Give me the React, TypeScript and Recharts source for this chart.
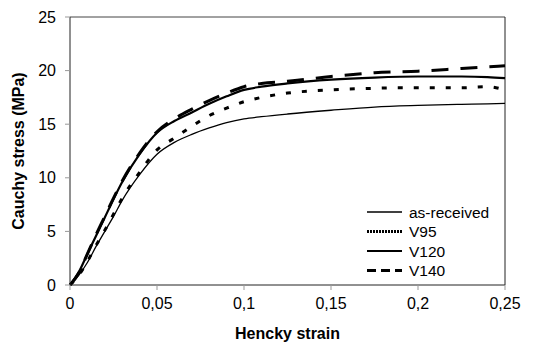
import React from 'react';
import { LineChart, Line, XAxis, YAxis, ReferenceLine, Legend } from 'recharts';

const strain = [0, 0.005, 0.01, 0.015, 0.02, 0.025, 0.03, 0.04, 0.05, 0.06, 0.07, 0.08, 0.09, 0.1, 0.11, 0.125, 0.15, 0.175, 0.2, 0.225, 0.24, 0.25];
const asReceived = [0, 0.9, 2.1, 3.6, 5.0, 6.4, 7.9, 10.3, 12.2, 13.3, 14.05, 14.65, 15.15, 15.5, 15.7, 15.95, 16.3, 16.6, 16.75, 16.85, 16.9, 16.95];
const v95 = [0, 0.9, 2.2, 3.7, 5.1, 6.6, 8.1, 10.5, 12.6, 13.7, 14.8, 15.8, 16.5, 17.1, 17.5, 17.9, 18.2, 18.35, 18.4, 18.4, 18.5, 18.2];
const v120 = [0, 1.2, 2.9, 4.6, 6.3, 8.0, 9.6, 12.2, 14.2, 15.3, 16.1, 16.9, 17.6, 18.2, 18.5, 18.8, 19.15, 19.35, 19.45, 19.45, 19.4, 19.3];
const v140 = [0, 1.1, 2.9, 4.7, 6.4, 8.1, 9.7, 12.3, 14.3, 15.5, 16.4, 17.2, 17.9, 18.5, 18.8, 19.0, 19.45, 19.8, 19.95, 20.2, 20.35, 20.45];

const xTicks = [0, 0.05, 0.1, 0.15, 0.2, 0.25];
const yTicks = [0, 5, 10, 15, 20, 25];

const seriesNames = ['as-received', 'V95', 'V120', 'V140'];

const data = strain.map((s, i) => ({
  strain: s,
  asReceived: asReceived[i],
  v95: v95[i],
  v120: v120[i],
  v140: v140[i],
}));

const FONT = '"Liberation Sans", Arial, Helvetica, sans-serif';

const legendStyles = [
  { width: 1.3, dash: undefined },
  { width: 3, dash: '2 1' },
  { width: 2.2, dash: undefined },
  { width: 3, dash: '9 5 9 5 3 0' },
];

const LegendContent = () => (
  <svg width={150} height={80} style={{ overflow: 'visible', display: 'block' }}>
    {seriesNames.map((name, i) => {
      const y = 9 + i * 19.5;
      const st = legendStyles[i];
      return (
        <g key={name}>
          <line x1={3} x2={38} y1={y} y2={y} stroke="#000" strokeWidth={st.width} strokeDasharray={st.dash} />
          <text x={45} y={y + 5.5} fontSize={15.5} fontFamily={FONT} fill="#000">{name}</text>
        </g>
      );
    })}
  </svg>
);

const fmt = (v: number) => String(v).replace('.', ',');

export default function App() {
  return (
    <div style={{ position: 'absolute', left: 0, top: 0, background: '#fff' }}>
      <LineChart width={546} height={342} data={data} margin={{ top: 17, right: 41, bottom: 0, left: 0 }}>
        <XAxis
          type="number"
          dataKey="strain"
          domain={[0, 0.25]}
          ticks={xTicks}
          tickFormatter={fmt}
          tickSize={5}
          tickMargin={8}
          height={57}
          axisLine={{ stroke: '#222', strokeWidth: 1 }}
          tickLine={{ stroke: '#999' }}
          tick={{ fill: '#000', fontSize: 16, fontFamily: FONT }}
          label={{ value: 'Hencky strain', position: 'insideBottom', offset: 3, style: { fill: '#000', fontSize: 16, fontWeight: 'bold', fontFamily: FONT } }}
        />
        <YAxis
          type="number"
          domain={[0, 25]}
          ticks={yTicks}
          tickSize={5}
          tickMargin={9}
          width={70}
          axisLine={{ stroke: '#222', strokeWidth: 1 }}
          tickLine={{ stroke: '#999' }}
          tick={{ fill: '#000', fontSize: 16, fontFamily: FONT }}
          label={{ value: 'Cauchy stress (MPa)', angle: -90, position: 'insideLeft', offset: 18, style: { textAnchor: 'middle', fill: '#000', fontSize: 16, fontWeight: 'bold', fontFamily: FONT } }}
        />
        <ReferenceLine y={25} stroke="#444" strokeWidth={1} />
        <ReferenceLine x={0.25} stroke="#222" strokeWidth={1} />
        <Legend
          layout="vertical"
          align="center"
          verticalAlign="middle"
          content={<LegendContent />}
          wrapperStyle={{ position: 'absolute', left: 364, top: 203, width: 150, height: 80 }}
        />
        <Line type="monotone" dataKey="asReceived" name="as-received" stroke="#000" strokeWidth={1.3} dot={false} isAnimationActive={false} />
        <Line type="monotone" dataKey="v95" name="V95" stroke="#000" strokeWidth={3} strokeDasharray="5 11" dot={false} isAnimationActive={false} />
        <Line type="monotone" dataKey="v120" name="V120" stroke="#000" strokeWidth={2.2} dot={false} isAnimationActive={false} />
        <Line type="monotone" dataKey="v140" name="V140" stroke="#000" strokeWidth={3} strokeDasharray="17 12" dot={false} isAnimationActive={false} />
      </LineChart>
    </div>
  );
}
